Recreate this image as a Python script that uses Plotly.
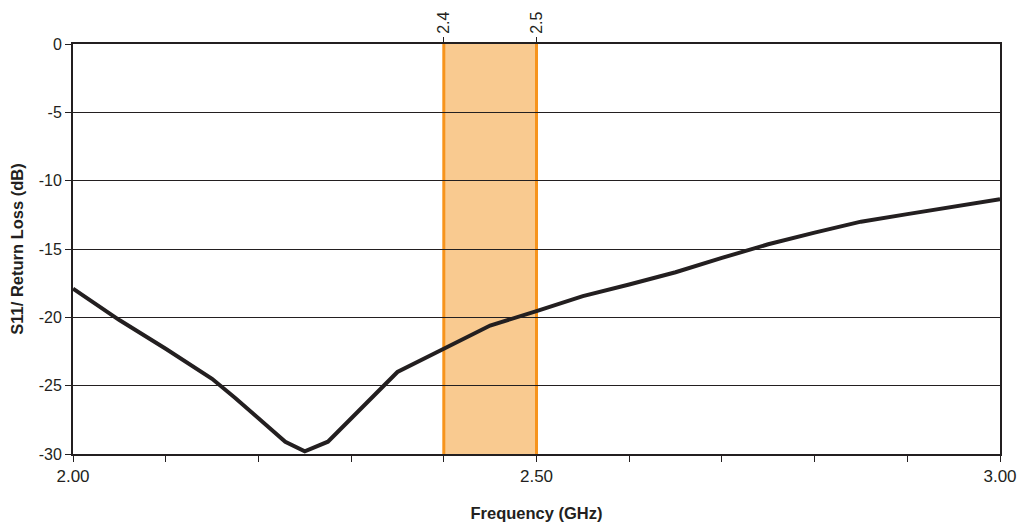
import plotly.graph_objects as go

freq_ghz = [2.00, 2.05, 2.10, 2.15, 2.175, 2.20, 2.229, 2.25, 2.275, 2.30, 2.35,
            2.40, 2.45, 2.50, 2.55, 2.60, 2.65, 2.70, 2.75, 2.80, 2.85, 2.90, 2.95, 3.00]
s11_db = [-17.9, -20.2, -22.3, -24.5, -25.9, -27.4, -29.1, -29.8, -29.1, -27.4, -24.0,
          -22.3, -20.6, -19.55, -18.45, -17.6, -16.7, -15.65, -14.65, -13.8, -13.0, -12.45, -11.9, -11.35]

band_lo, band_hi = 2.4, 2.5
x_tick_vals = [2.0, 2.1, 2.2, 2.3, 2.4, 2.5, 2.6, 2.7, 2.8, 2.9, 3.0]
x_tick_text = ["2.00", "", "", "", "", "2.50", "", "", "", "", "3.00"]
y_tick_vals = [0, -5, -10, -15, -20, -25, -30]
y_tick_text = ["0", "-5", "-10", "-15", "-20", "-25", "-30"]
top_tick_vals = [2.4, 2.5]
top_tick_text = ["2.4", "2.5"]

ink = "#231f20"
font_family = "Liberation Sans, Arial, sans-serif"

fig = go.Figure()
fig.add_trace(go.Scatter(x=freq_ghz, y=s11_db, mode="lines",
                         line=dict(color=ink, width=4), showlegend=False,
                         hoverinfo="skip"))
# invisible trace for top axis
fig.add_trace(go.Scatter(x=[2.0, 3.0], y=[None, None], xaxis="x2", mode="lines",
                         showlegend=False, hoverinfo="skip"))

fig.add_shape(type="rect", xref="x", yref="y", x0=band_lo, x1=band_hi, y0=-30, y1=0,
              fillcolor="#F9CA90", line=dict(width=0), layer="below")
for xv in (band_lo, band_hi):
    fig.add_shape(type="line", xref="x", yref="y", x0=xv, x1=xv, y0=-30, y1=0,
                  line=dict(color="#F7941D", width=3), layer="below")

fig.update_layout(
    width=1018, height=516,
    margin=dict(l=65, r=26, t=36, b=70),
    paper_bgcolor="white", plot_bgcolor="white",
    font=dict(family=font_family, size=15, color=ink),
    xaxis=dict(range=[2.0, 3.0], tickvals=x_tick_vals, ticktext=x_tick_text,
               tickfont=dict(size=17),
               ticks="outside", ticklen=6, tickwidth=1, tickcolor=ink,
               showline=True, linecolor=ink, linewidth=2, mirror=True,
               showgrid=False, zeroline=False, automargin=False,
               title=dict(text="<b>Frequency (GHz)</b>", font=dict(size=16.5), standoff=22)),
    xaxis2=dict(range=[2.0, 3.0], overlaying="x", side="top", anchor="y",
                tickvals=top_tick_vals, ticktext=top_tick_text, tickangle=-90,
                tickfont=dict(size=16),
                ticks="outside", ticklen=6, tickcolor=ink, showgrid=False,
                showline=False, zeroline=False, automargin=False),
    yaxis=dict(range=[-30, 0], tickvals=y_tick_vals, ticktext=y_tick_text,
               tickfont=dict(size=16),
               ticks="outside", ticklen=6, tickwidth=1, tickcolor=ink,
               showline=True, linecolor=ink, linewidth=2, mirror=True,
               showgrid=True, gridcolor=ink, gridwidth=1, zeroline=False,
               automargin=False,
               title=dict(text="<b>S11/ Return Loss (dB)</b>", font=dict(size=16.5), standoff=12)),
)

fig.write_html("out.html")
